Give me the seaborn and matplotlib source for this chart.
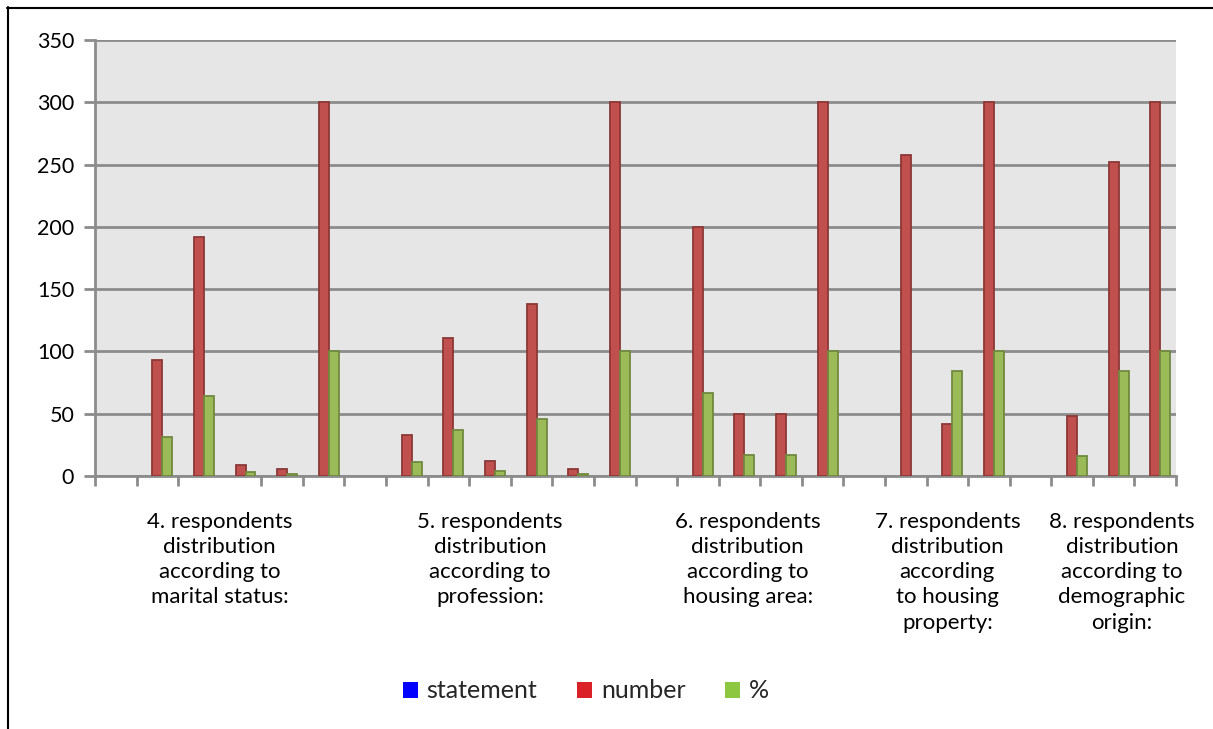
import numpy as np
import pandas as pd
import matplotlib
matplotlib.use("Agg")
import matplotlib.pyplot as plt
from matplotlib.patches import Patch
from matplotlib.lines import Line2D
import seaborn as sns

# Survey table rows (one category per row, header rows carry no values)
row_ids = list(range(26))
statement = [np.nan] * 26
number = [np.nan, 93, 192, 9, 6, 300,
          np.nan, 33, 111, 12, 138, 6, 300,
          np.nan, 200, 50, 50, 300,
          np.nan, 258, 42, 300,
          np.nan, 48, 252, 300]
percent = [np.nan, 31, 64, 3, 2, 100,
           np.nan, 11, 37, 4, 46, 2, 100,
           np.nan, 67, 17, 17, 100,
           np.nan, np.nan, 84, 100,
           np.nan, 16, 84, 100]

group_labels = [
    "4. respondents\ndistribution\naccording to\nmarital status:",
    "5. respondents\ndistribution\naccording to\nprofession:",
    "6. respondents\ndistribution\naccording to\nhousing area:",
    "7. respondents\ndistribution\naccording\nto housing\nproperty:",
    "8. respondents\ndistribution\naccording to\ndemographic\norigin:",
]
group_label_pos = [2.5, 9.0, 15.2, 20.0, 24.2]

series_names = ["statement", "number", "%"]
y_ticks = [0, 50, 100, 150, 200, 250, 300, 350]

df = pd.DataFrame({
    "row": row_ids * 3,
    "series": [s for s in series_names for _ in row_ids],
    "value": statement + number + percent,
})

sns.set_theme(style="white")
plt.rcParams["font.family"] = ["Lato", "DejaVu Sans"]

fig = plt.figure(figsize=(12.13, 7.29), dpi=100)
ax = fig.add_axes([95 / 1213, 1 - 476 / 729, (1176 - 95) / 1213, (476 - 40) / 729])

bar_fill = {"statement": "#4F81BD", "number": "#C0504D", "%": "#9BBB59"}
bar_edge = {"statement": "#385D8A", "number": "#8C3836", "%": "#71893F"}

sns.barplot(data=df, x="row", y="value", hue="series", hue_order=series_names,
            order=row_ids, palette=bar_fill, saturation=1, width=0.72,
            errorbar=None, legend=False, ax=ax, zorder=3)

for container, name in zip(ax.containers, series_names):
    for bar in container:
        bar.set_edgecolor(bar_edge[name])
        bar.set_linewidth(1.3)

ax.set_facecolor("#E6E6E6")
ax.set_xlim(-0.5, 25.5)
ax.set_ylim(0, 350)
ax.set_yticks(y_ticks)
ax.yaxis.grid(True, color="#8C8C8C", linewidth=2, zorder=0)
ax.set_axisbelow(True)
for side in ["top", "right"]:
    ax.spines[side].set_visible(False)
for side in ["left", "bottom"]:
    ax.spines[side].set_color("#8C8C8C")
    ax.spines[side].set_linewidth(2)

ax.tick_params(axis="y", which="major", direction="out", length=8, width=2,
               color="#8C8C8C", labelsize=15.5, pad=7, labelcolor="#000000", left=True)

# category boundary ticks along the x axis, group titles as major labels
ax.set_xticks(np.arange(-0.5, 26, 1.0), minor=True)
ax.set_xticks(group_label_pos)
ax.set_xticklabels(group_labels, fontsize=16, linespacing=1.32, va="top")
ax.tick_params(axis="x", which="minor", direction="out", length=7, width=2,
               color="#8C8C8C", bottom=True)
ax.tick_params(axis="x", which="major", length=0, pad=26, labelcolor="#000000")
ax.set_xlabel("")
ax.set_ylabel("")

legend_colors = {"statement": "#0000FF", "number": "#DA2127", "%": "#8DC63F"}
handles = [Patch(facecolor=legend_colors[n], edgecolor="none", label=n) for n in series_names]
fig.legend(handles=handles, loc="center", bbox_to_anchor=(0.483, 1 - 691 / 729),
           ncol=3, frameon=False, fontsize=18, handlelength=0.6, handleheight=0.6,
           handletextpad=0.35, columnspacing=1.6)

# chart frame
fig.add_artist(Line2D([7 / 1213, 1.0], [1 - 7.5 / 729, 1 - 7.5 / 729],
                      transform=fig.transFigure, color="black", linewidth=1.5))
fig.add_artist(Line2D([7.5 / 1213, 7.5 / 1213], [0, 1 - 7 / 729],
                      transform=fig.transFigure, color="black", linewidth=1.5))

fig.savefig("out.png", dpi=100)
